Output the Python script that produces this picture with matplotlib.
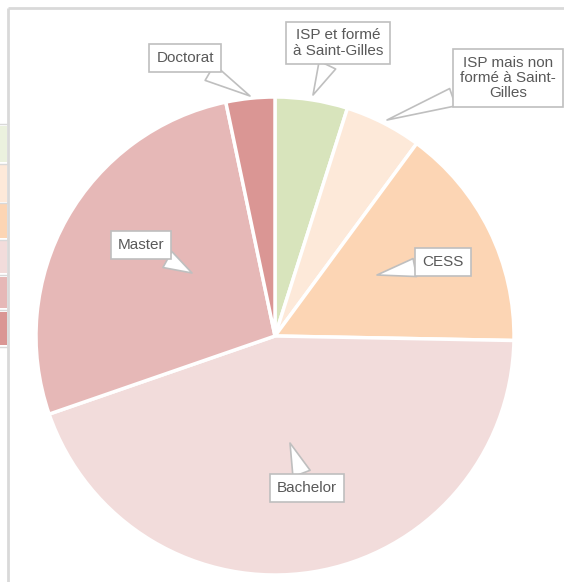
import matplotlib.pyplot as plt
from matplotlib.patches import Rectangle

# data (share of each level)
labels = ['ISP et formé\nà Saint-Gilles', 'ISP mais non\nformé à Saint-\nGilles', 'CESS',
          'Bachelor', 'Master', 'Doctorat']
values = [4.9, 5.2, 15.2, 44.4, 27.0, 3.3]
colors = ['#D8E4BC', '#FDE9D9', '#FCD5B4', '#F2DCDB', '#E6B8B7', '#DA9694']
legend_colors = ['#EBF1DE', '#FDE9D9', '#FCD5B4', '#F2DCDB', '#E6B8B7', '#DA9694']

W, H = 564, 582
fig = plt.figure(figsize=(W / 100, H / 100), dpi=100)
ax = fig.add_axes([0, 0, 1, 1])

cx, cy, r = 275, H - 336, 239
ax.pie(values, colors=colors, startangle=90, counterclock=False,
       center=(cx, cy), radius=r, frame=True,
       wedgeprops=dict(edgecolor='white', linewidth=2.5))
ax.set_xlim(0, W)
ax.set_ylim(0, H)
ax.set_aspect('equal')
ax.axis('off')

# chart frame
ax.plot([8, 8], [0, H - 8], color='#D9D9D9', lw=2, solid_capstyle='butt')
ax.plot([8, W], [H - 8, H - 8], color='#D9D9D9', lw=2, solid_capstyle='butt')

# legend swatches, cut at the left edge
tops = [126, 165, 204, 241, 277, 312]
bots = [162, 202, 238, 273, 308, 345]
for t, b, c in zip(tops, bots, legend_colors):
    ax.add_patch(Rectangle((0, H - b), 7, b - t, facecolor=c, edgecolor='none'))
for y in [124, 164, 203, 240, 275, 310, 347]:
    ax.plot([0, 7], [H - y, H - y], color='#D9D9D9', lw=1)

# callout labels: box centre and pointer tip (pixels from top-left)
box_pos = [(338, 43), (508, 78), (443, 262), (307, 488), (141, 245), (185, 58)]
tips = [(313, 95), (387, 120), (377, 275), (290, 443), (192, 273), (250, 96)]
for lab, (bx, by), (tx, ty) in zip(labels, box_pos, tips):
    ax.annotate(lab, xy=(tx, H - ty), xytext=(bx, H - by),
                ha='center', va='center', fontsize=11, color='#595959',
                family='Liberation Sans', linespacing=1.1,
                bbox=dict(boxstyle='square,pad=0.45', fc='white', ec='#BFBFBF', lw=1.2),
                arrowprops=dict(arrowstyle='wedge,tail_width=1.2,shrink_factor=0.5',
                                fc='white', ec='#BFBFBF', lw=1.2,
                                shrinkA=0, shrinkB=0))

fig.savefig('out.png', dpi=100)
